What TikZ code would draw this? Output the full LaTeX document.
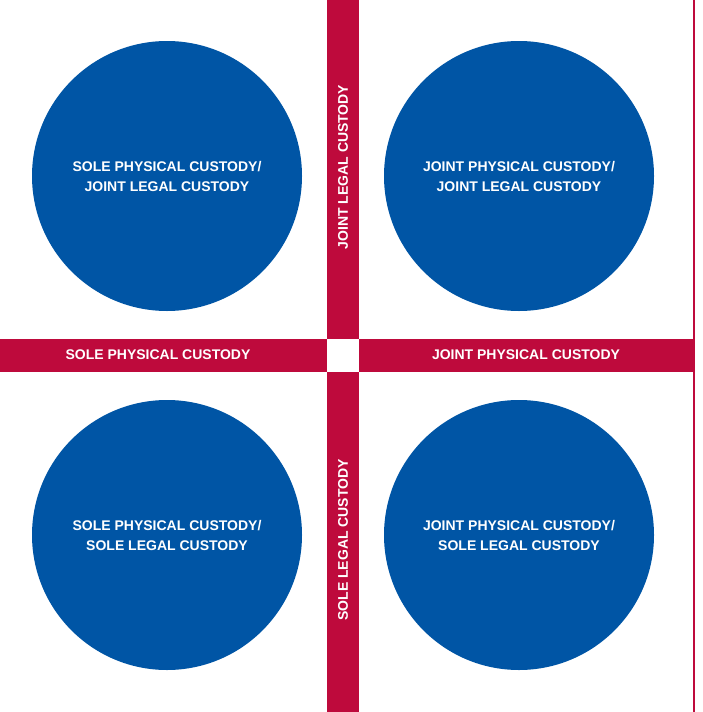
\documentclass[tikz,border=0pt]{standalone}
\usepackage{fontspec}
\setmainfont{Liberation Sans}
\definecolor{cred}{HTML}{BE0A3C}
\definecolor{cblue}{HTML}{0055A5}
\begin{document}
\begin{tikzpicture}[x=1pt,y=-1pt,
  circ/.style={circle,fill=cblue,minimum size=270pt,inner sep=0pt,text=white,align=center,font=\bfseries\fontsize{14}{20}\selectfont},
  barlab/.style={text=white,font=\bfseries\fontsize{14}{16}\selectfont,inner sep=0pt}]
\useasboundingbox (0,0) rectangle (702,712);
\fill[cred] (327,0) rectangle (359,339);
\fill[cred] (327,372) rectangle (359,712);
\fill[cred] (0,339) rectangle (327,372);
\fill[cred] (359,339) rectangle (694,372);
\draw[cred,line width=1.2pt] (694,0) -- (694,712);
\node[circ] (tl) at (167,176) {SOLE PHYSICAL CUSTODY/\\JOINT LEGAL CUSTODY};
\node[circ] (tr) at (519,176) {JOINT PHYSICAL CUSTODY/\\JOINT LEGAL CUSTODY};
\node[circ] (bl) at (167,535) {SOLE PHYSICAL CUSTODY/\\SOLE LEGAL CUSTODY};
\node[circ] (br) at (519,535) {JOINT PHYSICAL CUSTODY/\\SOLE LEGAL CUSTODY};
\node[barlab] (h1) at (158,355) {SOLE PHYSICAL CUSTODY};
\node[barlab] (h2) at (526,355) {JOINT PHYSICAL CUSTODY};
\node[barlab,rotate=90] (v1) at (343,167) {JOINT LEGAL CUSTODY};
\node[barlab,rotate=90] (v2) at (343,540) {SOLE LEGAL CUSTODY};
\end{tikzpicture}
\end{document}
